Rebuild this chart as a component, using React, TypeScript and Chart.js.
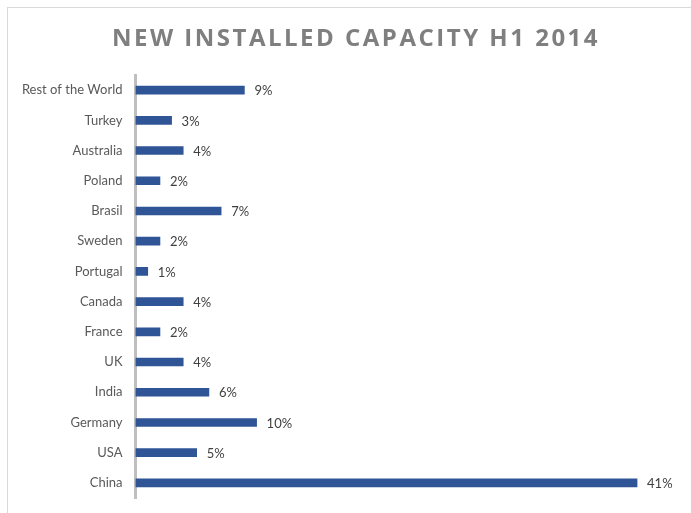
import React, { useEffect, useRef } from "react";
import { Chart, registerables } from "chart.js";

Chart.register(...registerables);

const categories = [
  "Rest of the World",
  "Turkey",
  "Australia",
  "Poland",
  "Brasil",
  "Sweden",
  "Portugal",
  "Canada",
  "France",
  "UK",
  "India",
  "Germany",
  "USA",
  "China",
];
const shares = [8.9, 2.95, 3.9, 2, 7, 2, 1, 3.9, 2, 3.9, 6, 9.9, 5, 41];
const titleText = "NEW INSTALLED CAPACITY H1 2014";
const axisMax = 45;

const FONT = "Lato, 'Open Sans', sans-serif";

const valueLabels = {
  id: "valueLabels",
  afterDatasetsDraw(chart: any) {
    const ctx = chart.ctx;
    const meta = chart.getDatasetMeta(0);
    ctx.save();
    ctx.font = `13px ${FONT}`;
    ctx.fillStyle = "#404040";
    ctx.textAlign = "left";
    ctx.textBaseline = "middle";
    meta.data.forEach((bar: any, i: number) => {
      const v = chart.data.datasets[0].data[i] as number;
      ctx.fillText(`${Math.round(v)}%`, bar.x + 10, bar.y + 1);
    });
    ctx.restore();
  },
};

export default function App() {
  const ref = useRef<HTMLCanvasElement>(null);
  useEffect(() => {
    if (!ref.current) return;
    const chart = new Chart(ref.current, {
      type: "bar",
      data: {
        labels: categories,
        datasets: [
          {
            data: shares,
            backgroundColor: "#2f5597",
            borderWidth: 0,
            barThickness: 8,
          },
        ],
      },
      options: {
        indexAxis: "y",
        animation: false,
        responsive: false,
        maintainAspectRatio: false,
        layout: { padding: { top: 75, bottom: 15, right: 5, left: 0 } },
        plugins: {
          legend: { display: false },
          tooltip: { enabled: false },
          title: { display: false },
        },
        scales: {
          x: {
            display: false,
            min: 0,
            max: axisMax,
          },
          y: {
            afterFit(scale: any) {
              scale.width = 135.5;
              scale.paddingTop = 0;
              scale.paddingBottom = 0;
            },
            grid: { display: false, drawTicks: false },
            border: { display: true, color: "#bfbfbf", width: 3 },
            ticks: {
              color: "#595959",
              font: { family: FONT, size: 13 },
              padding: 13,
            },
          },
        },
      },
      plugins: [valueLabels],
    });
    return () => chart.destroy();
  }, []);

  return (
    <div>
      <div
        style={{
          position: "fixed",
          left: 7,
          top: 7,
          width: 800,
          height: 800,
          border: "1px solid #d9d9d9",
          boxSizing: "border-box",
        }}
      />
      <div
        style={{
          position: "fixed",
          left: 0,
          top: 0,
          width: 691,
          height: 513,
        }}
      >
        <canvas ref={ref} width={691} height={513} style={{ display: "block" }} />
      </div>
      <div
        style={{
          position: "fixed",
          left: 0,
          top: 21,
          width: 712,
          textAlign: "center",
          fontFamily: "'Open Sans', sans-serif",
          fontWeight: 700,
          fontSize: 24,
          letterSpacing: 2.5,
          color: "#7f7f7f",
          lineHeight: "32px",
          whiteSpace: "nowrap",
        }}
      >
        {titleText}
      </div>
    </div>
  );
}
